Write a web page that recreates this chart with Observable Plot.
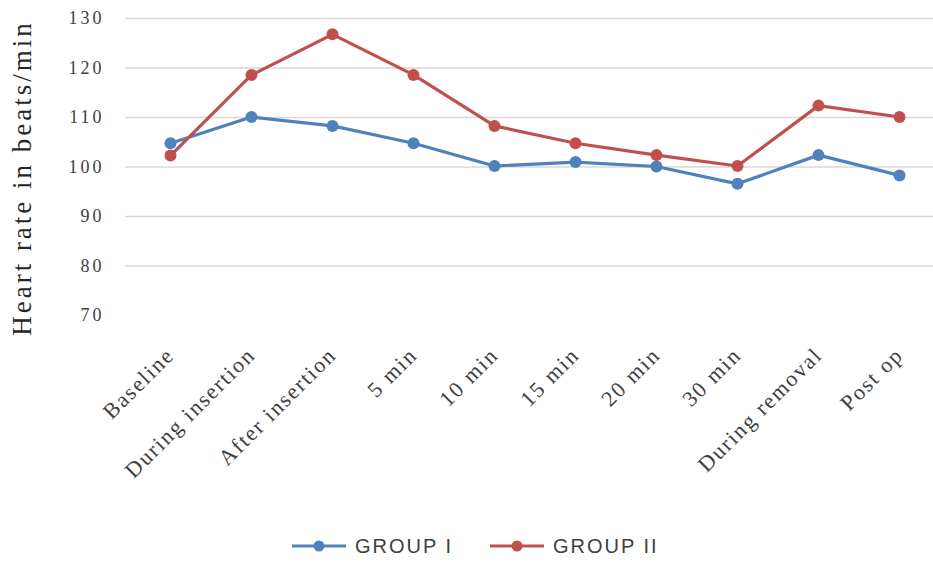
<!DOCTYPE html>
<html>
<head>
<meta charset="utf-8">
<script src="https://cdn.jsdelivr.net/npm/d3@7"></script>
<script src="https://cdn.jsdelivr.net/npm/@observablehq/plot@0.6"></script>
<style>
  body { margin: 0; background: #fff; }
  #wrap { position: relative; width: 933px; height: 562px; overflow: hidden; }
  #legend { position: absolute; left: 0; top: 528px; width: 933px; height: 34px; }
</style>
</head>
<body>
<div id="wrap">
  <div id="chart"></div>
  <svg id="legend" width="933" height="34"></svg>
</div>
<script>
const categories = ["Baseline", "During insertion", "After insertion", "5 min", "10 min", "15 min", "20 min", "30 min", "During removal", "Post op"];
const group1 = [104.8, 110.1, 108.3, 104.8, 100.2, 101.0, 100.1, 96.6, 102.4, 98.3];
const group2 = [102.3, 118.6, 126.8, 118.6, 108.3, 104.8, 102.4, 100.2, 112.4, 110.1];
const seriesNames = ["GROUP I", "GROUP II"];
const seriesColors = ["#4F81BD", "#C0504D"];
const yTicks = [70, 80, 90, 100, 110, 120, 130];
const gridValues = [80, 90, 100, 110, 120, 130];
const yTitle = "Heart rate in beats/min";

const rows1 = categories.map((c, i) => ({cat: c, v: group1[i]}));
const rows2 = categories.map((c, i) => ({cat: c, v: group2[i]}));

const chart = Plot.plot({
  width: 933,
  height: 520,
  marginLeft: 125,
  marginRight: 0,
  marginTop: 18,
  marginBottom: 205,
  style: {fontFamily: "Liberation Serif", background: "#fff", overflow: "visible"},
  x: {type: "point", domain: categories, range: [166, 903], padding: 0},
  y: {domain: [70, 130]},
  marks: [
    Plot.ruleY(gridValues, {stroke: "#d9d9d9", strokeWidth: 1.5}),
    Plot.axisY({ticks: yTicks, tickSize: 0, tickPadding: 21, fontSize: 18, fill: "#404040", label: null, className: "yax"}),
    Plot.axisX({tickSize: 0, tickRotate: -45, tickPadding: 36, fontSize: 22, fill: "#404040", label: null, className: "xax"}),
    Plot.line(rows1, {x: "cat", y: "v", stroke: seriesColors[0], strokeWidth: 3.2}),
    Plot.dot(rows1, {x: "cat", y: "v", fill: seriesColors[0], r: 6}),
    Plot.line(rows2, {x: "cat", y: "v", stroke: seriesColors[1], strokeWidth: 3.2}),
    Plot.dot(rows2, {x: "cat", y: "v", fill: seriesColors[1], r: 6}),
    Plot.text([yTitle], {frameAnchor: "left", dx: -103, dy: 11, rotate: -90, textAnchor: "middle", fontSize: 27, fill: "#262626", text: d => d, className: "ytitle"})
  ]
});
document.getElementById("chart").appendChild(chart);
d3.select(chart).selectAll(".yax text").attr("letter-spacing", 3);
d3.select(chart).selectAll(".xax text").attr("letter-spacing", 1.8);
d3.select(chart).selectAll(".ytitle text").attr("letter-spacing", 3);

// legend
const leg = d3.select("#legend");
const items = [
  {name: seriesNames[0], color: seriesColors[0], x: 292},
  {name: seriesNames[1], color: seriesColors[1], x: 490}
];
items.forEach(it => {
  leg.append("line").attr("x1", it.x).attr("x2", it.x + 54).attr("y1", 18).attr("y2", 18)
    .attr("stroke", it.color).attr("stroke-width", 3);
  leg.append("circle").attr("cx", it.x + 27).attr("cy", 18).attr("r", 5.5).attr("fill", it.color);
  leg.append("text").attr("x", it.x + 63).attr("y", 25).text(it.name)
    .attr("font-family", "Liberation Sans").attr("font-size", 20).attr("letter-spacing", 2)
    .attr("fill", "#404040");
});
</script>
</body>
</html>
